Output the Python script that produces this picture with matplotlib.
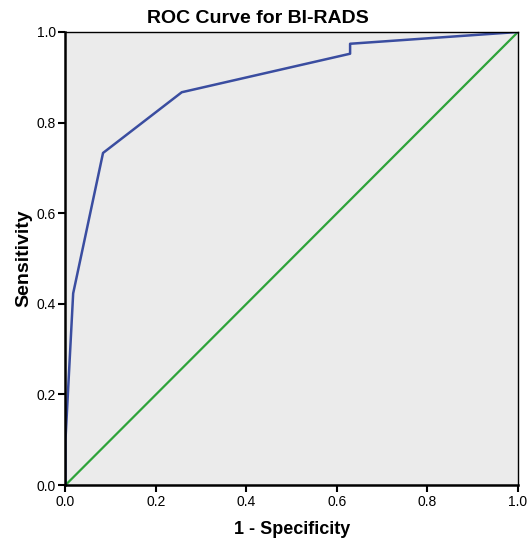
import matplotlib
matplotlib.use("Agg")
from matplotlib import pyplot as plt

# ROC curve points
fpr = [0.0, 0.0, 0.017, 0.083, 0.257, 0.629, 0.629, 1.0]
tpr = [0.0, 0.10, 0.423, 0.733, 0.867, 0.952, 0.974, 1.0]
ref_x = [0.0, 1.0]
ref_y = [0.0, 1.0]
ticks = [0.0, 0.2, 0.4, 0.6, 0.8, 1.0]

plt.rcParams['font.family'] = ['Liberation Sans', 'DejaVu Sans']

fig = plt.figure(figsize=(5.28, 5.42), dpi=100)
ax = fig.add_axes([0.124, 0.105, 0.857, 0.836])
ax.set_facecolor('#EBEBEB')

ax.plot(ref_x, ref_y, color='#2EA33A', linewidth=1.6)
ax.plot(fpr, tpr, color='#3A4DA0', linewidth=1.8)

ax.set_xlim(0, 1)
ax.set_ylim(0, 1)
ax.set_xticks(ticks)
ax.set_yticks(ticks)
ax.set_xticklabels([f'{t:.1f}' for t in ticks])
ax.set_yticklabels([f'{t:.1f}' for t in ticks])
ax.tick_params(direction='out', length=5, width=1.5, labelsize=10, pad=2)

for s in ['left', 'bottom']:
    ax.spines[s].set_linewidth(1.8)
for s in ['top', 'right']:
    ax.spines[s].set_linewidth(1.0)

# title sits a bit left of the plot centre, like in the original
fig.text(0.489, 0.958, 'ROC Curve for BI-RADS', fontsize=14, fontweight='bold',
         ha='center', va='baseline')
ax.set_xlabel('1 - Specificity', fontsize=13, fontweight='bold', labelpad=9)
ax.set_ylabel('Sensitivity', fontsize=14, fontweight='bold', labelpad=3)

fig.savefig('out.png', dpi=100)
